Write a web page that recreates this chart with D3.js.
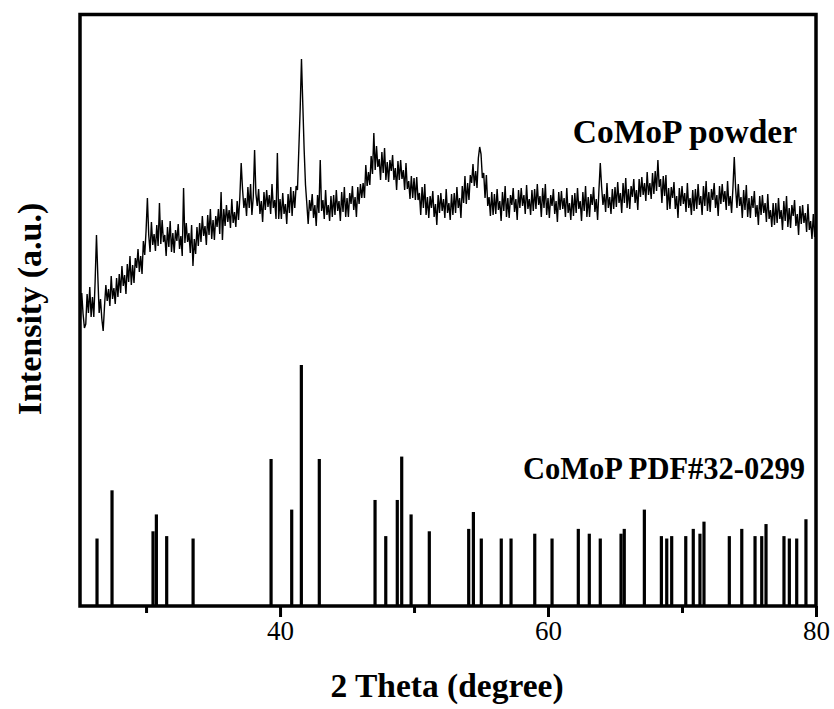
<!DOCTYPE html>
<html>
<head>
<meta charset="utf-8">
<script src="https://cdn.jsdelivr.net/npm/d3@7"></script>
<style>
  html, body { margin: 0; padding: 0; background: #fff; }
  svg { display: block; }
</style>
</head>
<body>
<svg id="chart" width="834" height="709"></svg>
<script>
// ---------- data ----------
// Reference pattern sticks (CoMoP PDF#32-0299): 2θ positions and relative intensity (%)
const stickTwoTheta = [26.34, 27.46, 30.52, 30.77, 31.54, 33.51, 39.33, 40.87, 41.59, 42.93,
  47.09, 47.89, 48.75, 49.08, 49.78, 51.14, 54.08, 54.43, 55.02, 56.51, 57.24, 59.01, 60.30,
  62.26, 63.08, 63.90, 65.45, 65.69, 67.19, 68.46, 68.86, 69.23, 70.28, 70.84, 71.34, 71.64,
  73.53, 74.46, 75.45, 75.95, 76.27, 77.61, 78.01, 78.56, 79.25];
const stickIntensity = [28, 48, 31, 38, 29, 28, 61, 40, 100, 61,
  44, 29, 44, 62, 38, 31, 32, 39, 28, 28, 28, 30, 28,
  32, 30, 28, 30, 32, 40, 29, 28, 29, 29, 32, 30, 35,
  29, 32, 29, 29, 34, 29, 28, 28, 36];

// Measured CoMoP powder pattern: intensity (a.u.), 2θ from 25.0° in 0.1° steps
const powderStart = 25.0;
const powderStep = 0.1;
const powderIntensity = [
  307,287,313,292,278,282,312,293,319,289,
  309,289,325,371,330,293,307,287,275,300,
  321,305,317,300,330,307,318,302,328,309,
  332,313,340,320,331,312,342,324,350,321,
  341,323,348,338,357,334,350,332,365,351,
  375,408,371,354,384,361,372,355,381,360,
  403,362,386,364,371,350,379,359,385,354,
  373,353,376,365,382,357,370,350,418,363,
  383,364,373,353,381,340,367,352,379,360,
  383,364,390,370,380,361,391,371,397,367,
  386,366,390,379,397,372,414,366,397,380,
  401,384,396,378,407,383,394,379,405,386,
  409,443,417,398,408,390,419,398,422,391,
  409,456,412,400,417,392,405,384,414,396,
  416,399,411,392,422,398,406,387,453,387,
  407,387,413,392,402,382,412,393,419,390,
  415,398,420,416,456,496,547,501,456,421,
  402,382,406,395,412,388,401,380,411,393,
  446,395,406,387,416,391,401,385,410,389,
  411,391,416,395,405,385,414,394,419,389,
  408,389,413,402,420,396,409,389,419,402,
  422,408,423,408,441,420,434,421,450,432,
  473,436,460,439,447,426,454,433,458,426,
  444,424,446,435,451,426,438,416,445,426,
  446,427,436,416,443,417,425,407,430,408,
  428,406,429,406,413,391,419,398,422,391,
  409,388,410,398,415,389,402,381,411,393,
  413,395,407,388,417,393,403,386,412,391,
  413,393,419,398,408,388,420,403,430,402,
  423,406,431,423,442,420,435,418,448,459,
  452,428,433,408,431,400,409,390,414,391,
  412,392,417,396,405,385,414,395,420,389,
  408,388,411,401,418,394,407,386,416,398,
  418,400,411,392,421,397,407,391,416,395,
  417,397,422,401,410,389,418,398,422,391,
  408,388,411,400,417,392,405,384,414,396,
  415,397,408,389,418,393,403,386,411,390,
  413,393,418,397,405,385,414,395,420,389,
  409,389,412,401,419,394,407,386,416,443,
  419,401,412,394,423,398,409,392,417,397,
  419,399,424,403,413,393,423,403,428,398,
  417,397,420,409,427,403,416,396,427,409,
  429,411,423,405,434,411,423,407,433,412,
  435,415,446,419,427,403,430,410,431,396,
  418,397,419,408,424,397,410,388,418,400,
  420,402,413,394,423,398,408,391,416,395,
  417,397,422,401,410,391,420,400,425,395,
  414,394,417,406,423,398,411,390,420,402,
  422,404,415,396,425,400,410,393,418,449,
  418,398,422,400,409,388,416,396,421,389,
  408,388,410,398,415,389,401,381,410,391,
  411,393,403,384,412,387,396,379,403,381,
  403,383,408,387,396,376,405,385,410,379,
  398,378,401,390,406,380,392,371,400,382,
  401,383,393,374,402,376,385,367,392,369,
  385
];

const majorTicks = [40, 60, 80];
const minorTicks = [30, 50, 70];
const xDomain = [25.07, 80];

const labels = {
  x: "2 Theta (degree)",
  y: "Intensity (a.u.)",
  powder: "CoMoP powder",
  ref: "CoMoP PDF#32-0299"
};

// ---------- layout ----------
const svg = d3.select("#chart");
const plot = { left: 80, right: 816, top: 14.5, bottom: 606 };
const font = "'Liberation Serif', 'Times New Roman', Times, serif";

const x = d3.scaleLinear().domain(xDomain).range([plot.left, plot.right]);
const yPowder = d3.scaleLinear().domain([0, 592]).range([plot.bottom, plot.bottom - 592]);
const yStick = d3.scaleLinear().domain([0, 100]).range([plot.bottom, 365]);

svg.append("defs").append("clipPath").attr("id", "clip")
  .append("rect")
  .attr("x", plot.left).attr("y", plot.top)
  .attr("width", plot.right - plot.left).attr("height", plot.bottom - plot.top);

// powder pattern line
const powder = powderIntensity.map((v, i) => ({ t: powderStart + i * powderStep, v }));
const line = d3.line().x(d => x(d.t)).y(d => yPowder(d.v));
svg.append("path")
  .datum(powder)
  .attr("clip-path", "url(#clip)")
  .attr("fill", "none")
  .attr("stroke", "#000")
  .attr("stroke-width", 1.4)
  .attr("stroke-linejoin", "miter")
  .attr("d", line);

// reference sticks
const sticks = stickTwoTheta.map((t, i) => ({ t, v: stickIntensity[i] }));
svg.append("g").selectAll("rect")
  .data(sticks)
  .join("rect")
  .attr("x", d => x(d.t) - 1.6)
  .attr("width", 3.2)
  .attr("y", d => yStick(d.v))
  .attr("height", d => yStick(0) - yStick(d.v))
  .attr("fill", "#000");

// axes
const axMajor = d3.axisBottom(x).tickValues(majorTicks).tickSize(11).tickPadding(4)
  .tickFormat(d3.format("d"));
const gMajor = svg.append("g").attr("transform", `translate(0,${plot.bottom})`).call(axMajor);
gMajor.select(".domain").remove();
gMajor.selectAll(".tick line").attr("stroke", "#000").attr("stroke-width", 3);
gMajor.selectAll(".tick text")
  .attr("font-family", font).attr("font-size", 27).attr("fill", "#000");

const axMinor = d3.axisBottom(x).tickValues(minorTicks).tickSize(7).tickFormat("");
const gMinor = svg.append("g").attr("transform", `translate(0,${plot.bottom})`).call(axMinor);
gMinor.select(".domain").remove();
gMinor.selectAll(".tick line").attr("stroke", "#000").attr("stroke-width", 3);

// frame
svg.append("rect")
  .attr("x", plot.left).attr("y", plot.top)
  .attr("width", plot.right - plot.left).attr("height", plot.bottom - plot.top)
  .attr("fill", "none").attr("stroke", "#000").attr("stroke-width", 3.5);

// labels
svg.append("text")
  .attr("x", 447).attr("y", 697)
  .attr("text-anchor", "middle")
  .attr("font-family", font).attr("font-weight", "bold").attr("font-size", 33.5)
  .text(labels.x);

svg.append("text")
  .attr("transform", `translate(41,309) rotate(-90)`)
  .attr("text-anchor", "middle")
  .attr("font-family", font).attr("font-weight", "bold").attr("font-size", 34)
  .text(labels.y);

svg.append("text")
  .attr("x", 797).attr("y", 143)
  .attr("text-anchor", "end")
  .attr("font-family", font).attr("font-weight", "bold").attr("font-size", 33.5)
  .text(labels.powder);

svg.append("text")
  .attr("x", 805).attr("y", 479)
  .attr("text-anchor", "end")
  .attr("font-family", font).attr("font-weight", "bold").attr("font-size", 30.5)
  .text(labels.ref);
</script>
</body>
</html>
